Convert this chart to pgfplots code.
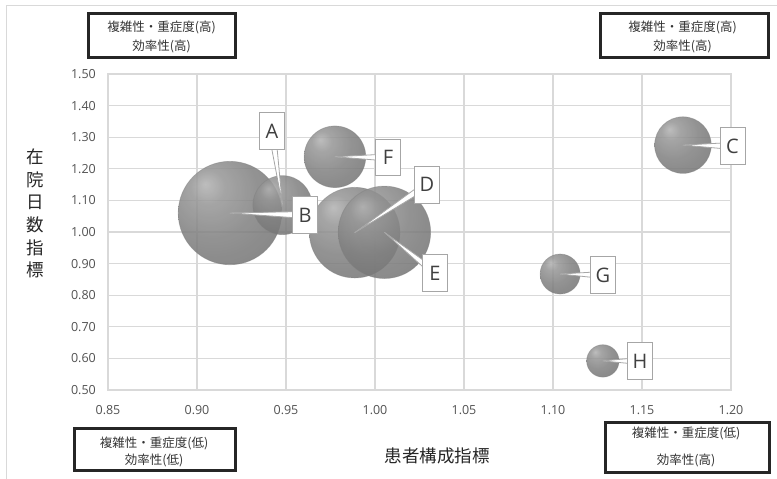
\documentclass[border=0pt]{standalone}
\usepackage{fontspec}
\setmainfont{Open Sans}
\newfontfamily\jp{Noto Sans CJK JP}
\usepackage{pgfplots}
\pgfplotsset{compat=1.18}
\usepackage{pgfplotstable}
\usetikzlibrary{calc}

\definecolor{sph1}{RGB}{178,178,178}
\definecolor{sph2}{RGB}{150,150,150}
\definecolor{sph3}{RGB}{128,128,128}
\definecolor{sph4}{RGB}{112,112,112}
\definecolor{sph5}{RGB}{92,92,92}
\definecolor{gridgray}{RGB}{217,217,217}
\definecolor{lblgray}{RGB}{166,166,166}

\pgfdeclareradialshading{sphere}{\pgfpoint{-12bp}{14bp}}{%
  color(0bp)=(sph1); color(8bp)=(sph2); color(22bp)=(sph3);
  color(40bp)=(sph4); color(58bp)=(sph5); color(75bp)=(sph5)}

\pgfdeclareplotmark{sphere}{%
  \pgfpathcircle{\pgfpointorigin}{\pgfplotmarksize}%
  \pgfshadepath{sphere}{0}%
  \pgfusepath{}%
  \pgfpathcircle{\pgfpointorigin}{\pgfplotmarksize}%
  \pgfusepath{stroke}%
}

\pgfplotstableread{
x y r
0.9185 1.060 51.7
0.9886 0.998 45.3
1.0053 0.999 46.2
0.948 1.085 29.5
0.9775 1.238 30.8
1.173 1.275 28.3
1.104 0.867 20.0
1.128 0.592 16.2
}\bubbles

\begin{document}
\begin{tikzpicture}
\path[use as bounding box, fill=white] (0,0) rectangle (777pt,479pt);
\draw[gridgray, line width=1pt] (6pt,0) -- (6pt,473pt) -- (777pt,473pt);

\begin{axis}[
  at={(108pt,89pt)}, anchor=south west,
  scale only axis, width=623pt, height=316pt,
  xmin=0.85, xmax=1.20, ymin=0.5, ymax=1.5,
  xtick={0.85,0.90,0.95,1.00,1.05,1.10,1.15,1.20},
  ytick={0.5,0.6,0.7,0.8,0.9,1.0,1.1,1.2,1.3,1.4,1.5},
  grid=major,
  major grid style={draw=gridgray, line width=1.3pt},
  axis line style={draw=gridgray, line width=1.3pt},
  major tick length=0pt,
  clip=false,
  scaled ticks=false,
  /pgf/number format/assume math mode=true,
  /pgf/number format/fixed,
  /pgf/number format/fixed zerofill,
  /pgf/number format/precision=2,
  tick label style={font=\fontsize{12.5}{13}\selectfont, text=black!68},
  yticklabel style={anchor=east, inner sep=0pt, xshift=-12pt},
  xticklabel style={anchor=north, inner sep=0pt, yshift=-15pt},
]
\addplot[only marks, mark=sphere, scatter,
  scatter/use mapped color={draw=black!50, fill=gray},
  visualization depends on={\thisrow{r}\as\rad},
  scatter/@pre marker code/.append style={/tikz/mark size=\rad},
  mark options={fill opacity=0.85, draw opacity=0.45, line width=0.7pt}]
  table[x=x, y=y, meta=r]{\bubbles};

\coordinate (tB) at (axis cs:0.9185,1.060);
\coordinate (tD) at (axis cs:0.9886,0.998);
\coordinate (tE) at (axis cs:1.0053,0.999);
\coordinate (tA) at (axis cs:0.948,1.085);
\coordinate (tF) at (axis cs:0.9775,1.238);
\coordinate (tC) at (axis cs:1.173,1.275);
\coordinate (tG) at (axis cs:1.104,0.867);
\coordinate (tH) at (axis cs:1.128,0.592);

\coordinate (lA) at (axis cs:0.9421,1.3196);
\coordinate (lB) at (axis cs:0.9607,1.0538);
\coordinate (lF) at (axis cs:1.0073,1.2358);
\coordinate (lD) at (axis cs:1.0292,1.1497);
\coordinate (lE) at (axis cs:1.0337,0.8703);
\coordinate (lC) at (axis cs:1.2008,1.2722);
\coordinate (lG) at (axis cs:1.1281,0.8639);
\coordinate (lH) at (axis cs:1.1489,0.5918);
\end{axis}

\foreach \n in {A,B,C,D,E,F,G,H}{
  \draw[draw=lblgray, fill=white, line width=0.8pt, line join=round]
    (t\n) -- ($(l\n)!3.5pt!90:(t\n)$) -- ($(l\n)!3.5pt!-90:(t\n)$) -- cycle;
}
\foreach \n in {A,B,C,D,E,F,G,H}{
  \node[draw=lblgray, fill=white, line width=0.8pt, minimum width=25pt,
    minimum height=36.5pt, inner sep=0pt, text=black!75,
    font=\fontsize{20}{20}\selectfont] at (l\n) {\n};
}

% axis titles
\node[font=\jp\fontsize{17.5}{18}\selectfont, text=black!85] at (437pt,23pt) {患者構成指標};
\node[font=\jp\fontsize{17.5}{22.6}\selectfont, text=black!85, align=center] at (35.5pt,265.5pt)
  {在\\院\\日\\数\\指\\標};

% corner boxes
\draw[black!85, line width=3pt, fill=white] (88pt,421pt) rectangle (235pt,465pt);
\node[font=\jp\fontsize{12.5}{13}\selectfont, text=black!80] at (161.5pt,452pt) {複雑性・重症度(高)};
\node[font=\jp\fontsize{12.5}{13}\selectfont, text=black!80] at (161.5pt,433pt) {効率性(高)};

\draw[black!85, line width=3pt, fill=white] (600pt,421pt) rectangle (768pt,465pt);
\node[font=\jp\fontsize{12.5}{13}\selectfont, text=black!80] at (682.5pt,452pt) {複雑性・重症度(高)};
\node[font=\jp\fontsize{12.5}{13}\selectfont, text=black!80] at (682.5pt,433pt) {効率性(高)};

\draw[black!85, line width=3pt, fill=white] (74pt,8pt) rectangle (235pt,50pt);
\node[font=\jp\fontsize{12.5}{13}\selectfont, text=black!80] at (154pt,36pt) {複雑性・重症度(低)};
\node[font=\jp\fontsize{12.5}{13}\selectfont, text=black!80] at (154pt,19pt) {効率性(低)};

\draw[black!85, line width=3pt, fill=white] (605pt,6pt) rectangle (769pt,56pt);
\node[font=\jp\fontsize{12.5}{13}\selectfont, text=black!80] at (686pt,46pt) {複雑性・重症度(低)};
\node[font=\jp\fontsize{12.5}{13}\selectfont, text=black!80] at (686pt,19pt) {効率性(高)};
\end{tikzpicture}
\end{document}
